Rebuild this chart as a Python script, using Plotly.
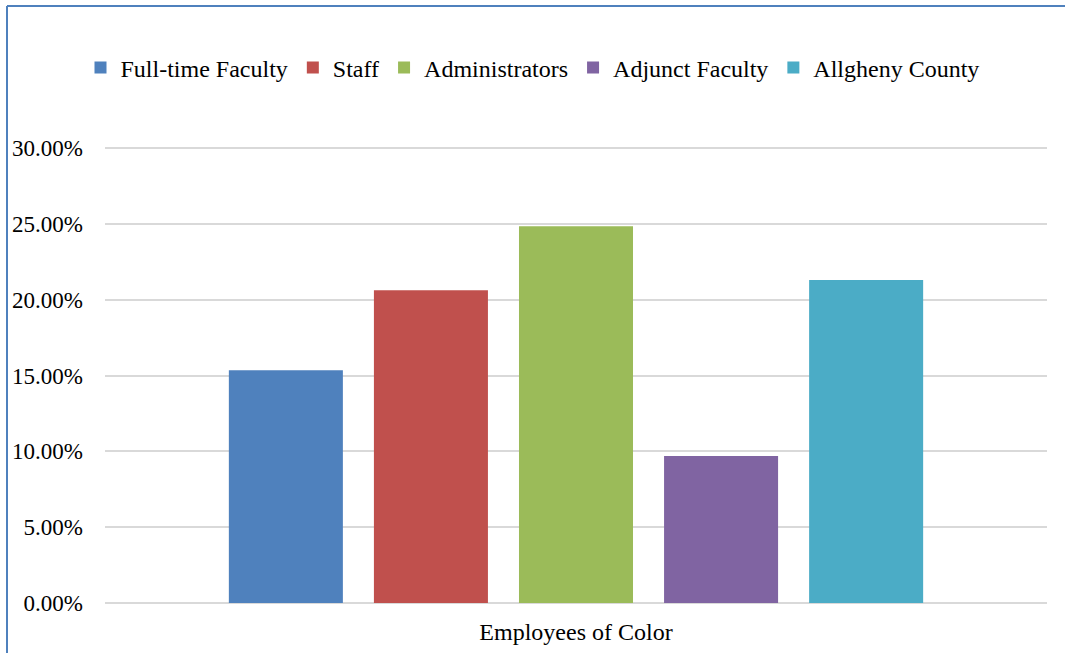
import plotly.graph_objects as go

category = ["Employees of Color"]
series_names = ["Full-time Faculty", "Staff", "Administrators", "Adjunct Faculty", "Allgheny County"]
series_values = [0.1535, 0.2063, 0.2485, 0.0970, 0.2130]
series_colors = ["#4F81BD", "#C0504D", "#9BBB59", "#8064A2", "#4BACC6"]
y_ticks = [0.0, 0.05, 0.10, 0.15, 0.20, 0.25, 0.30]
y_tick_labels = ["0.00%", "5.00%", "10.00%", "15.00%", "20.00%", "25.00%", "30.00%"]

FONT = "Liberation Serif, Times New Roman, serif"
Y_MAX = 0.302
PH = 458  # plot height in px

fig = go.Figure()
for name, val, col in zip(series_names, series_values, series_colors):
    fig.add_trace(go.Bar(x=category, y=[val], name=name, marker=dict(color=col, line=dict(width=0))))

fig.update_layout(
    width=1065, height=653,
    margin=dict(l=105, r=18, t=145, b=50, autoexpand=False),
    paper_bgcolor="white", plot_bgcolor="white",
    barmode="group", bargap=0.23, bargroupgap=0.214,
    font=dict(family=FONT, size=24, color="#000000"),
    showlegend=True,
    legend=dict(orientation="h", xref="container", yref="container",
                x=0.5, xanchor="center", y=1 - 68 / 653, yanchor="middle",
                font=dict(family=FONT, size=24), itemwidth=30, traceorder="normal"),
    xaxis=dict(showgrid=False, showline=False, ticks="", ticklabelstandoff=12,
               automargin=False, tickfont=dict(family=FONT, size=24)),
    yaxis=dict(range=[0, Y_MAX], tickvals=y_ticks, ticktext=y_tick_labels,
               showgrid=True, gridcolor="#D9D9D9", gridwidth=1.5,
               zeroline=True, zerolinecolor="#D9D9D9", zerolinewidth=1.5,
               showline=False, ticks="", ticklabelstandoff=21, automargin=False,
               tickfont=dict(family=FONT, size=23)),
    shapes=[
        dict(type="line", xref="paper", yref="paper",
             x0=(7 - 105) / 942, x1=(1070 - 105) / 942,
             y0=(603 - 6) / PH, y1=(603 - 6) / PH,
             line=dict(color="#4F81BD", width=2)),
        dict(type="line", xref="paper", yref="paper",
             x0=(7 - 105) / 942, x1=(7 - 105) / 942,
             y0=(603 - 6) / PH, y1=(603 - 660) / PH,
             line=dict(color="#4F81BD", width=2)),
    ],
)

fig.write_html("out.html")
